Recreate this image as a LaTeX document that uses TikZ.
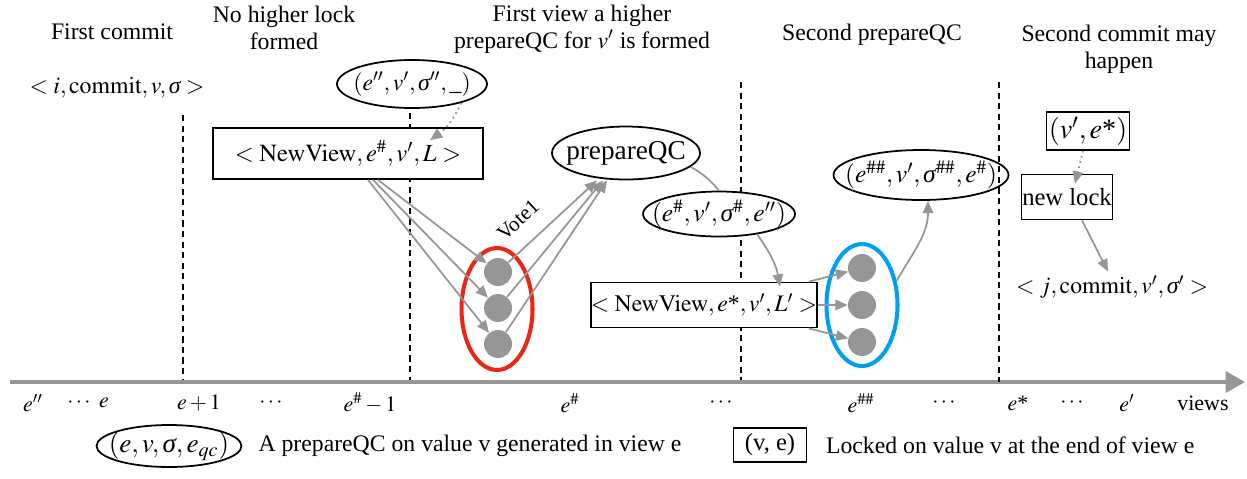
\documentclass[tikz,border=0pt]{standalone}
\usepackage{mathptmx}
\usepackage{fontspec}
\setmainfont{Liberation Serif}
\usetikzlibrary{arrows.meta,positioning,shapes.geometric}
\definecolor{linkgray}{RGB}{150,150,150}
\definecolor{quorumred}{RGB}{236,38,20}
\definecolor{quorumblue}{RGB}{0,160,240}
\newcommand{\st}{\mbox{*}}
\newcommand{\sig}{\mbox{\itshape σ}}

\begin{document}
\begin{tikzpicture}[x=0.02cm,y=-0.02cm,
   heading/.style={align=center,font=\fontsize{13.5}{15.5}\selectfont},
   msg/.style={inner sep=2pt,font=\fontsize{13.5}{16}\selectfont},
   qc/.style={draw,ellipse,line width=1pt,fill=white,inner xsep=-2cm,inner ysep=-0.4cm,font=\fontsize{14.5}{17}\selectfont},
   msgbox/.style={draw,rectangle,line width=1pt,fill=white,inner sep=0pt,font=\fontsize{14}{16}\selectfont},
   vote/.style={circle,fill=linkgray,minimum size=0.56cm,inner sep=0pt},
   quorum/.style={draw,ellipse,line width=2.3pt,minimum width=1.42cm,minimum height=2.44cm},
   flow/.style={-{Triangle[length=7pt,width=6pt]},draw=linkgray,line width=1pt},
   hint/.style={flow,dotted},
   divider/.style={line width=1.4pt,dash pattern=on 3.5pt off 2.5pt},
   viewlabel/.style={font=\fontsize{12.5}{14}\selectfont},
   viewaxis/.style={-{Triangle[length=11pt,width=12pt]},draw=linkgray,line width=1.8pt}]
   \useasboundingbox (0,0) rectangle (1247,478);

   % phase headings
   \node[heading] (h1) at ( 112, 32) {First commit};
   \node[heading] (h2) at ( 284, 28) {No higher lock\\formed};
   \node[heading] (h3) at ( 582, 29) {First view a higher\\prepareQC for $v'$ is formed};
   \node[heading] (h4) at ( 872, 35) {Second prepareQC};
   \node[heading] (h5) at (1119, 49) {Second commit may\\happen};

   % view boundaries
   \coordinate (top1) at ( 183,115);
   \coordinate (bot1) at ( 183,382);
   \coordinate (top2) at ( 410,113);
   \coordinate (bot2) at ( 410,382);
   \coordinate (top3) at ( 741, 82);
   \coordinate (bot3) at ( 741,382);
   \coordinate (top4) at ( 999, 82);
   \coordinate (bot4) at ( 999,382);
   \draw[divider] (top1) -- (bot1);
   \draw[divider] (top2) -- (bot2);
   \draw[divider] (top3) -- (bot3);

   % views axis
   \coordinate (axstart) at (  10,382);
   \coordinate (axend)   at (1245,382);
   \draw[viewaxis] (axstart) -- (axend);
   \node[viewlabel] (l1)  at (  33,403) {$e''$};
   \node[viewlabel] (l2)  at (  79,403) {$\cdots$};
   \node[viewlabel] (l3)  at ( 104,403) {$e$};
   \node[viewlabel] (l4)  at ( 199,403) {$e+1$};
   \node[viewlabel] (l5)  at ( 271,403) {$\cdots$};
   \node[viewlabel] (l6)  at ( 370,403) {$e^{\#}-1$};
   \node[viewlabel] (l7)  at ( 570,403) {$e^{\#}$};
   \node[viewlabel] (l8)  at ( 721,403) {$\cdots$};
   \node[viewlabel] (l9)  at ( 861,403) {$e^{\#\#}$};
   \node[viewlabel] (l10) at ( 944,403) {$\cdots$};
   \node[viewlabel] (l11) at (1018,403) {$e\st$};
   \node[viewlabel] (l12) at (1072,403) {$\cdots$};
   \node[viewlabel] (l13) at (1127,403) {$e'$};
   \node[viewlabel] (l14) at (1203,403) {views};

   % first commit and first prepareQC
   \node[msg] (commit1) at (117,88) {$<i,\mathrm{commit},v,\sig>$};
   \node[qc,minimum width=3cm,minimum height=0.96cm,font=\fontsize{13.5}{16}\selectfont] (prevqc) at (412,84) {$(e'',v',\sig'',\_)$};
   \node[msgbox,minimum width=5.4cm,minimum height=1.02cm] (nv1) at (348,153.5) {$<\mathrm{NewView},e^{\#},v',L>$};
   \node[qc,minimum width=2.96cm,minimum height=1.06cm,font=\fontsize{15.5}{17}\selectfont] (pqc) at (626,153) {prepareQC};
   \node[quorum,draw=quorumred] (q1) at (497,309) {};
   \node[vote] (v1a) at (498,272) {};
   \node[vote] (v1b) at (498,308) {};
   \node[vote] (v1c) at (498,344) {};
   \node[rotate=43,font=\fontsize{12}{14}\selectfont] (vote1) at (518,220) {Vote1};
   \node[qc,minimum width=3.04cm,minimum height=0.9cm] (qc1) at (719,214) {$(e^{\#},v',\sig^{\#},e'')$};
   \draw[hint] (prevqc.-21) to[bend left=15] ([xshift=1.64cm,yshift=-0.26cm]nv1.north);
   \draw[flow] ([xshift=0.6cm]nv1.south) -- (v1a);
   \draw[flow] ([xshift=0.5cm]nv1.south) -- (v1b);
   \draw[flow] ([xshift=0.4cm]nv1.south) -- (v1c);
   \draw[flow] (v1a) -- ([xshift=-0.58cm]pqc.south);
   \draw[flow] (v1b) -- ([xshift=-0.46cm]pqc.south);
   \draw[flow] (v1c) -- ([xshift=-0.38cm]pqc.south);
   \draw[flow,-] (pqc.-12) to[bend left=10] (qc1.north);

   % second prepareQC
   \node[msgbox,minimum width=4.3cm,minimum height=0.9cm,font=\fontsize{13.5}{16}\selectfont] (nv2) at (704,305) {$<\mathrm{NewView},e\st,v',L'>$};
   \node[quorum,draw=quorumblue] (q2) at (862,305) {};
   \node[vote] (v2a) at (862,268) {};
   \node[vote] (v2b) at (862,305) {};
   \node[vote] (v2c) at (862,342) {};
   \node[qc,fill=none,minimum width=3.5cm,minimum height=1cm] (qc2) at (921,175) {$(e^{\#\#},v',\sig^{\#\#},e^{\#})$};
   \draw[flow] (qc1.-28) to[out=-55,in=100] ([xshift=1.52cm,yshift=-0.1cm]nv2.north);
   \draw[flow] ([xshift=-0.18cm]nv2.north east) -- (v2a);
   \draw[flow] (nv2.east) -- (v2b);
   \draw[flow] ([xshift=-0.18cm]nv2.south east) -- (v2c);
   \draw[flow] (q2.35) to[out=60,in=-90] ([xshift=0.14cm]qc2.south);
   \draw[divider] (top4) -- (bot4);

   % second commit
   \node[msgbox,minimum width=1.66cm,minimum height=0.76cm,font=\fontsize{16}{18}\selectfont] (lock1) at (1088,131) {$(v',e\st)$};
   \node[msgbox,minimum width=1.82cm,minimum height=0.9cm] (newlock) at (1067,197) {new lock};
   \node[msg] (commit2) at (1112,287) {$<j,\mathrm{commit},v',\sig'>$};
   \draw[hint] ([xshift=-0.1cm]lock1.south) -- ([xshift=0.16cm,yshift=-0.2cm]newlock.north);
   \draw[flow] ([xshift=0.3cm]newlock.south) -- ([xshift=-0.08cm]commit2.north);

   % legend
   \node[qc,minimum width=2.9cm,minimum height=0.84cm,font=\fontsize{15.5}{18}\selectfont] (legqc) at (169,446) {$(e,v,\sig,e_{qc})$};
   \node[right=0.2cm of legqc,font=\fontsize{13.5}{15}\selectfont] (legqctext) {A prepareQC on value v generated in view e};
   \node[msgbox,minimum width=1.46cm,minimum height=0.68cm] (leglock) at (770,445) {(v, e)};
   \node[right=0.25cm of leglock,font=\fontsize{13.5}{15}\selectfont] (leglocktext) {Locked on value v at the end of view e};
\end{tikzpicture}
\end{document}
